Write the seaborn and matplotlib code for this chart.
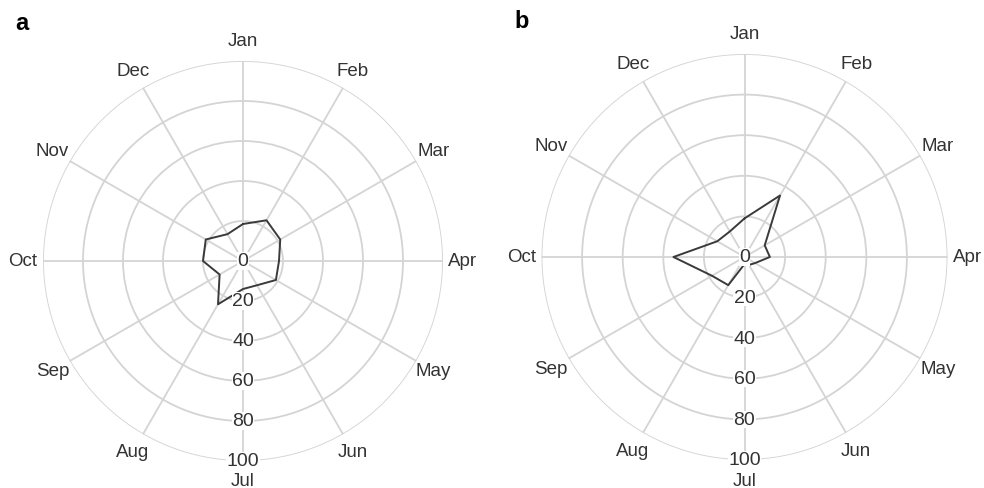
import numpy as np
import matplotlib
matplotlib.use("Agg")
import matplotlib.pyplot as plt
import seaborn as sns

# Monthly values for the two radar panels (percent scale 0-100)
months = ["Jan", "Feb", "Mar", "Apr", "May", "Jun",
          "Jul", "Aug", "Sep", "Oct", "Nov", "Dec"]
values_a = [18.5, 23.5, 21.5, 18.0, 19.0, 14.0, 14.0, 25.0, 13.5, 20.0, 21.5, 15.5]
values_b = [19.0, 35.0, 11.5, 12.5, 6.0, 4.5, 3.5, 16.0, 18.5, 35.0, 15.5, 14.5]
ring_ticks = [0, 20, 40, 60, 80, 100]
panel_letters = ["a", "b"]

sns.set_theme(style="white")
plt.rcParams["font.family"] = ["Liberation Sans", "DejaVu Sans"]

fig = plt.figure(figsize=(9.84, 4.89), dpi=100)
W, H = 984, 489

# (center x, center y from top, radius) in pixels for each panel
layouts = [(243, 262, 200), (744.5, 258, 203)]
letter_pos = [(15, 24), (514, 22)]

grid_color = "#d4d4d4"
text_color = "#333333"
line_color = "#3a3a3a"

theta = np.deg2rad(np.arange(12) * 30)

for (cx, cy, r), vals in zip(layouts, [values_a, values_b]):
    ax = fig.add_axes([(cx - r) / W, (H - cy - r) / H, 2 * r / W, 2 * r / H],
                      projection="polar")
    ax.set_theta_zero_location("N")
    ax.set_theta_direction(-1)
    ax.set_ylim(0, 100)
    ax.set_rgrids([20, 40, 60, 80, 100], labels=[""] * 5)
    ax.set_thetagrids(np.arange(12) * 30, labels=[""] * 12)
    ax.grid(True, color=grid_color, linewidth=1.3)
    ax.spines["polar"].set_visible(False)
    ax.set_facecolor("white")

    th = np.append(theta, theta[0] + 2 * np.pi)
    rv = np.append(vals, vals[0])
    sns.lineplot(x=th, y=rv, ax=ax, sort=False, color=line_color,
                 linewidth=1.4, estimator=None)
    ax.set_xlabel("")
    ax.set_ylabel("")

    for t in ring_ticks:
        ax.text(np.pi, t, str(t), ha="center", va="center", fontsize=14,
                color=text_color, zorder=5,
                bbox=dict(facecolor="white", edgecolor="none", pad=0.2))

    for ang, m in zip(theta, months):
        ax.text(ang, 110, m, ha="center", va="center", fontsize=13.5,
                color=text_color, clip_on=False)

for (lx, ly), letter in zip(letter_pos, panel_letters):
    fig.text(lx / W, 1 - ly / H, letter, fontsize=17, fontweight="bold",
             ha="left", va="center", color="black")

fig.savefig("out.png", dpi=100, facecolor="white")
